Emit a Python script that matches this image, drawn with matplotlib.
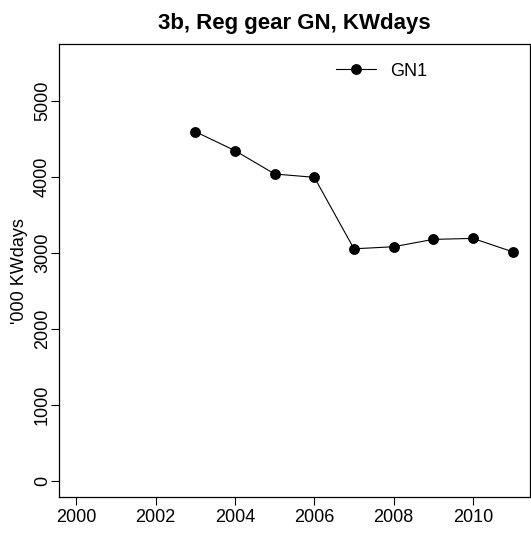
import matplotlib
matplotlib.use("Agg")
import matplotlib.pyplot as plt

years = [2003, 2004, 2005, 2006, 2007, 2008, 2009, 2010, 2011]
gn1 = [4593, 4343, 4036, 3992, 3051, 3078, 3175, 3188, 3012]
xticks = [2000, 2002, 2004, 2006, 2008, 2010]
yticks = [0, 1000, 2000, 3000, 4000, 5000]

plt.rcParams['font.family'] = ['Liberation Sans', 'DejaVu Sans']

fig = plt.figure(figsize=(5.31, 5.36), dpi=100)
ax = fig.add_axes([59/531, (536-497.3)/536, (530-59)/531, (497.3-44.5)/536])

ax.plot(years, gn1, color='black', lw=0.8, marker='o', ms=6.8, label='GN1')
ax.set_xlim(1999.56, 2011.44)
ax.set_ylim(-221, 5741)
ax.set_xticks(xticks)
ax.set_yticks(yticks)
ax.tick_params(direction='out', length=5.5, width=0.8, labelsize=13, pad=3)
ax.tick_params(axis='y', pad=0.3)
for lab in ax.get_yticklabels():
    lab.set_rotation(90)
    lab.set_va('center')
for s in ax.spines.values():
    s.set_linewidth(0.9)

ax.set_ylabel("'000 KWdays", fontsize=13, labelpad=4)
ax.set_title("3b, Reg gear GN, KWdays", fontsize=16, fontweight='bold', pad=11)
ax.legend(loc='upper right', bbox_to_anchor=(0.82, 1.0), frameon=False, fontsize=13,
          handlelength=2.2, borderaxespad=0.6)

fig.savefig("out.png", dpi=100)
